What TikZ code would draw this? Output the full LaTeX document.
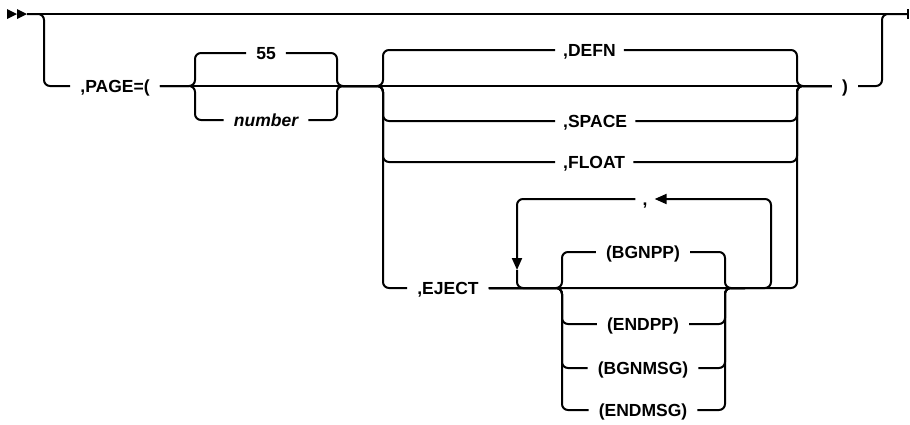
\documentclass[tikz,border=0pt]{standalone}
\usepackage{fontspec}
\setmainfont{Liberation Sans}
\usetikzlibrary{arrows.meta}
\begin{document}
\begin{tikzpicture}[x=1pt,y=-1pt,
  rail/.style={line width=2pt,rounded corners=6pt},
  kw/.style={font=\fontsize{17.5}{20}\selectfont\bfseries,inner xsep=10pt,inner ysep=0pt,text height=12.5pt,text depth=0pt},
  var/.style={kw,font=\fontsize{17.5}{20}\selectfont\bfseries\itshape},
  tip/.style={-{Triangle[length=12pt,width=10pt]}}]
  \useasboundingbox (0,0) rectangle (910,424);
  \coordinate (start) at (27,14);
  \coordinate (dropL) at (44,14);
  \coordinate (riseR) at (882,14);
  \coordinate (finish) at (908,14);
  \node[kw] (page) at (115,86) {,PAGE=(};
  \coordinate (aL) at (195,86);
  \coordinate (aR) at (337,86);
  \node[kw] (n55) at (266,53) {55};
  \node[var] (number) at (266,120) {number};
  \coordinate (bL) at (383,86);
  \coordinate (bR) at (797,86);
  \node[kw,anchor=west,inner xsep=8pt] (defn) at (555,50) {,DEFN};
  \node[kw,anchor=west,inner xsep=8pt] (space) at (555,121) {,SPACE};
  \node[kw,anchor=west,inner xsep=8pt] (float) at (555,162) {,FLOAT};
  \node[kw] (eject) at (448,288) {,EJECT};
  \coordinate (lpR) at (771,199);
  \coordinate (loopTip) at (517,270);
  \node[kw,inner xsep=7pt] (comma) at (645,199) {,};
  \coordinate (cL) at (562,288);
  \coordinate (cR) at (725,288);
  \coordinate (cOut) at (745,288);
  \node[kw] (bgnpp) at (643,252) {(BGNPP)};
  \node[kw] (endpp) at (643,324) {(ENDPP)};
  \node[kw] (bgnmsg) at (643,368) {(BGNMSG)};
  \node[kw] (endmsg) at (643,410) {(ENDMSG)};
  \node[kw] (close) at (845,86) {)};

  \fill (7,9) -- (17,14) -- (7,19) -- cycle;
  \fill (17,9) -- (27,14) -- (17,19) -- cycle;
  \draw[rail] (start) -- (finish);
  \draw[line width=2pt] (finish) ++(0,-5) -- ++(0,10);
  \draw[rail] (start) -- (dropL) |- (page.west);
  \draw[rail] (page.east) -- (close.west);
  \draw[rail] (close.east) -| (riseR) -- (finish);

  \draw[rail] (page.east) -- (aL) |- (n55.west);
  \draw[rail] (n55.east) -| (aR) -- (bL);
  \draw[rail] (page.east) -- (aL) |- (number.west);
  \draw[rail] (number.east) -| (aR) -- (bL);

  \draw[rail] (aR) -- (bL) |- (defn.west);
  \draw[rail] (defn.east) -| (bR) -- (close.west);
  \draw[rail] (aR) -- (bL) |- (space.west);
  \draw[rail] (space.east) -| (bR) -- (close.west);
  \draw[rail] (aR) -- (bL) |- (float.west);
  \draw[rail] (float.east) -| (bR) -- (close.west);
  \draw[rail] (aR) -- (bL) |- (eject.west);
  \draw[rail] (eject.east) -- (cR) -| (bR) -- (close.west);

  \draw[rail,tip] (cR) -| (lpR) -- (comma.east);
  \draw[rail,tip] (comma.west) -| (loopTip);
  \draw[rail] (loopTip) |- (cL);

  \draw[rail] (eject.east) -- (cL) |- (bgnpp.west);
  \draw[rail] (bgnpp.east) -| (cR) -- (cOut);
  \draw[rail] (eject.east) -- (cL) |- (endpp.west);
  \draw[rail] (endpp.east) -| (cR) -- (cOut);
  \draw[rail] (eject.east) -- (cL) |- (bgnmsg.west);
  \draw[rail] (bgnmsg.east) -| (cR) -- (cOut);
  \draw[rail] (eject.east) -- (cL) |- (endmsg.west);
  \draw[rail] (endmsg.east) -| (cR) -- (cOut);
\end{tikzpicture}
\end{document}
